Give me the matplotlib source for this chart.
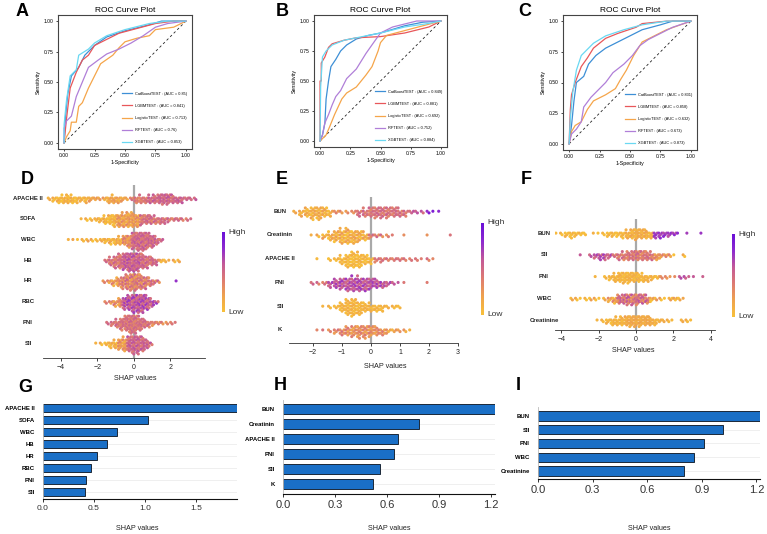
import numpy as np
import matplotlib
matplotlib.use("Agg")
import matplotlib.pyplot as plt
from matplotlib.colors import LinearSegmentedColormap

plt.rcParams['font.family'] = ['Liberation Sans', 'DejaVu Sans']

W, H = 767, 534

# ---------------- ROC data (FPR, TPR) ----------------
models = ['CatBoostTEST', 'LGBMTEST', 'LogisticTEST', 'RFTEST', 'XGBTEST']
model_colors = ['#3d8fd6', '#e8575a', '#f5a54a', '#b07fd8', '#6ad8f2']

aucA = ['0.85', '0.841', '0.713', '0.76', '0.853']
rocA = {
    'CatBoostTEST': ([0, 0.01, 0.03, 0.06, 0.12, 0.17, 0.25, 0.35, 0.5, 0.7, 0.8, 1],
                     [0, 0.2, 0.4, 0.55, 0.62, 0.72, 0.8, 0.87, 0.92, 0.97, 1, 1]),
    'LGBMTEST': ([0, 0.02, 0.05, 0.1, 0.15, 0.2, 0.25, 0.35, 0.45, 0.6, 0.75, 0.9, 1],
                 [0, 0.2, 0.45, 0.58, 0.68, 0.72, 0.8, 0.85, 0.9, 0.94, 0.98, 1, 1]),
    'LogisticTEST': ([0, 0.02, 0.05, 0.06, 0.1, 0.12, 0.15, 0.2, 0.25, 0.3, 0.4, 0.45, 0.5, 0.6, 0.7, 0.75, 0.9, 1],
                     [0, 0.05, 0.1, 0.17, 0.17, 0.3, 0.33, 0.45, 0.55, 0.65, 0.72, 0.78, 0.83, 0.86, 0.88, 0.93, 0.95, 1]),
    'RFTEST': ([0, 0, 0.02, 0.06, 0.1, 0.15, 0.2, 0.28, 0.35, 0.45, 0.55, 0.65, 0.75, 0.85, 1],
               [0, 0.12, 0.18, 0.22, 0.38, 0.5, 0.62, 0.68, 0.73, 0.77, 0.82, 0.88, 0.95, 0.98, 1]),
    'XGBTEST': ([0, 0, 0.02, 0.05, 0.1, 0.12, 0.2, 0.25, 0.35, 0.5, 0.7, 0.85, 1],
                [0, 0.15, 0.35, 0.55, 0.6, 0.72, 0.77, 0.82, 0.88, 0.93, 0.98, 1, 1]),
}

aucB = ['0.849', '0.881', '0.692', '0.752', '0.884']
rocB = {
    'CatBoostTEST': ([0, 0.02, 0.04, 0.05, 0.07, 0.09, 0.13, 0.17, 0.22, 0.3, 0.4, 0.5, 0.7, 0.85, 1],
                     [0, 0.05, 0.15, 0.35, 0.5, 0.62, 0.68, 0.75, 0.8, 0.85, 0.88, 0.9, 0.96, 0.99, 1]),
    'LGBMTEST': ([0, 0, 0.01, 0.01, 0.04, 0.07, 0.1, 0.2, 0.3, 0.5, 0.7, 0.9, 1],
                 [0, 0.5, 0.5, 0.65, 0.7, 0.78, 0.81, 0.84, 0.86, 0.87, 0.9, 0.95, 1]),
    'LogisticTEST': ([0, 0.05, 0.08, 0.12, 0.18, 0.22, 0.3, 0.38, 0.43, 0.48, 0.5, 0.55, 0.7, 0.85, 1],
                     [0, 0.05, 0.12, 0.22, 0.35, 0.4, 0.45, 0.55, 0.62, 0.75, 0.82, 0.88, 0.92, 0.96, 1]),
    'RFTEST': ([0, 0.02, 0.04, 0.07, 0.1, 0.13, 0.17, 0.22, 0.3, 0.38, 0.45, 0.5, 0.6, 0.8, 1],
               [0, 0.05, 0.15, 0.22, 0.3, 0.37, 0.42, 0.52, 0.6, 0.73, 0.83, 0.9, 0.95, 1, 1]),
    'XGBTEST': ([0, 0.005, 0.02, 0.05, 0.1, 0.2, 0.35, 0.5, 0.7, 0.9, 1],
                [0, 0.45, 0.7, 0.75, 0.8, 0.84, 0.87, 0.9, 0.95, 0.98, 1]),
}

aucC = ['0.831', '0.858', '0.632', '0.673', '0.873']
rocC = {
    'CatBoostTEST': ([0, 0.02, 0.04, 0.06, 0.12, 0.16, 0.22, 0.3, 0.4, 0.5, 0.6, 0.75, 0.85, 1],
                     [0, 0.15, 0.35, 0.5, 0.55, 0.65, 0.72, 0.78, 0.83, 0.88, 0.93, 0.97, 1, 1]),
    'LGBMTEST': ([0, 0.01, 0.02, 0.05, 0.1, 0.15, 0.2, 0.3, 0.4, 0.55, 0.6, 0.8, 1],
                 [0, 0.28, 0.4, 0.5, 0.63, 0.7, 0.78, 0.86, 0.9, 0.95, 0.98, 1, 1]),
    'LogisticTEST': ([0, 0.02, 0.05, 0.1, 0.15, 0.2, 0.3, 0.38, 0.42, 0.47, 0.53, 0.6, 0.7, 0.8, 1],
                     [0, 0.1, 0.15, 0.18, 0.28, 0.35, 0.4, 0.45, 0.52, 0.6, 0.72, 0.83, 0.88, 0.93, 1]),
    'RFTEST': ([0, 0.02, 0.06, 0.1, 0.12, 0.18, 0.25, 0.3, 0.36, 0.45, 0.52, 0.58, 0.65, 0.75, 0.85, 1],
               [0, 0.08, 0.12, 0.18, 0.3, 0.38, 0.45, 0.5, 0.58, 0.65, 0.72, 0.8, 0.85, 0.9, 0.95, 1]),
    'XGBTEST': ([0, 0.01, 0.03, 0.06, 0.1, 0.15, 0.2, 0.3, 0.45, 0.6, 0.8, 1],
                [0, 0.2, 0.42, 0.6, 0.72, 0.77, 0.82, 0.88, 0.93, 0.97, 1, 1]),
}

# ---------------- SHAP swarm data ----------------
# each feature: (first bin centre, bin counts, colour segments [(upper bin centre, feature level 0..1)], colour spread)
featD = ['APACHE II', 'SOFA', 'WBC', 'HB', 'HR', 'RBC', 'PNI', 'SII']
swarmD = [
    (-4.6, [2, 4, 6, 7, 8, 7, 5, 4, 5, 4, 3, 2, 3, 6, 7, 6, 4, 2, 3, 6, 7, 6, 7, 8, 9, 10, 10, 8, 6, 5, 3, 2, 2],
     [(-2.5, 0.08), (-0.3, 0.18), (0.7, 0.4), (9, 0.52)], 0.1),
    (-2.8, [1, 2, 2, 3, 4, 7, 9, 11, 12, 13, 14, 14, 12, 10, 9, 8, 7, 6, 5, 4, 3, 3, 2, 2, 1],
     [(-1.0, 0.08), (0.3, 0.22), (9, 0.45)], 0.12),
    (-3.5, [1, 1, 1, 2, 2, 2, 2, 3, 4, 5, 6, 7, 9, 12, 16, 18, 18, 16, 12, 7, 3],
     [(-0.6, 0.1), (-0.2, 0.3), (9, 0.5)], 0.12),
    (-1.5, [3, 7, 11, 14, 16, 18, 18, 17, 14, 11, 8, 5, 3, 2, 1, 2, 2],
     [(-0.6, 0.45), (0.3, 0.55), (1.3, 0.48), (9, 0.15)], 0.12),
    (-1.6, [2, 3, 5, 8, 11, 14, 16, 16, 14, 11, 7, 4, 2, 0, 0, 0, 1],
     [(-0.7, 0.25), (0.5, 0.38), (1.5, 0.42), (9, 0.9)], 0.16),
    (-1.5, [2, 3, 5, 8, 11, 14, 17, 18, 17, 13, 7, 3],
     [(-0.6, 0.3), (9, 0.6)], 0.15),
    (-1.4, [2, 4, 7, 11, 15, 18, 17, 13, 8, 5, 4, 3, 2, 2, 2, 1],
     [(0.9, 0.45), (9, 0.35)], 0.1),
    (-2.0, [1, 2, 3, 5, 7, 10, 13, 15, 17, 17, 14, 8, 2],
     [(-0.9, 0.1), (-0.3, 0.25), (9, 0.52)], 0.12),
]

featE = ['BUN', 'Creatinin', 'APACHE II', 'PNI', 'SII', 'K']
swarmE = [
    (-2.6, [2, 5, 8, 11, 12, 9, 5, 3, 2, 2, 3, 5, 7, 9, 10, 10, 10, 9, 7, 5, 3, 2, 2, 2, 1, 1],
     [(-1.3, 0.12), (-0.5, 0.3), (1.3, 0.45), (1.9, 0.55), (9, 0.85)], 0.1),
    (-2.0, [1, 2, 4, 7, 10, 13, 14, 12, 10, 7, 4, 3, 2, 2, 1, 0, 1, 0, 0, 0, 1, 0, 0, 0, 1],
     [(-0.1, 0.12), (9, 0.4)], 0.12),
    (-1.8, [1, 0, 2, 3, 7, 12, 14, 13, 9, 5, 4, 4, 3, 3, 3, 2, 2, 2, 1, 2, 1],
     [(0.0, 0.05), (9, 0.42)], 0.08),
    (-2.0, [2, 2, 3, 5, 8, 10, 12, 13, 13, 12, 10, 8, 6, 4, 2, 1, 1, 0, 0, 0, 1],
     [(-1.5, 0.45), (0.7, 0.62), (9, 0.52)], 0.12),
    (-1.6, [1, 2, 3, 8, 14, 16, 12, 8, 7, 6, 5, 2, 3, 2],
     [(9, 0.08)], 0.06),
    (-1.8, [1, 1, 2, 4, 6, 8, 10, 11, 11, 10, 8, 6, 4, 3, 2, 2, 1],
     [(-1.0, 0.35), (0.6, 0.3), (9, 0.2)], 0.12),
]

featF = ['BUN', 'SII', 'PNI', 'WBC', 'Creatinine']
swarmF = [
    (-4.2, [1, 2, 4, 5, 4, 3, 2, 0, 1, 1, 2, 4, 4, 4, 5, 7, 9, 10, 9, 8, 6, 5, 5, 4, 4, 3, 1, 0, 1, 0, 0, 1],
     [(-0.6, 0.05), (0.9, 0.12), (9, 0.72)], 0.08),
    (-2.9, [1, 0, 2, 4, 5, 5, 4, 3, 5, 7, 8, 9, 9, 9, 8, 7, 6, 4, 3, 2, 1, 0, 2],
     [(-1.2, 0.6), (0.9, 0.42), (2.0, 0.28), (9, 0.08)], 0.12),
    (-2.1, [1, 0, 2, 4, 7, 9, 10, 10, 9, 8, 7, 5, 4, 3, 2, 2, 1, 1, 2, 2, 1, 1, 0, 1],
     [(1.2, 0.08), (2.2, 0.3), (9, 0.6)], 0.06),
    (-3.4, [2, 2, 1, 2, 2, 2, 1, 2, 4, 6, 8, 9, 10, 10, 10, 9, 7, 4, 2, 2, 1, 3, 3, 2, 1],
     [(-1.5, 0.05), (-0.9, 0.2), (0.7, 0.45), (9, 0.1)], 0.18),
    (-2.0, [1, 2, 4, 6, 7, 8, 9, 10, 10, 10, 9, 8, 6, 3, 2, 2, 1, 0, 2, 2, 1],
     [(-0.6, 0.08), (0.8, 0.15), (9, 0.1)], 0.06),
]

# ---------------- mean |SHAP| bars ----------------
barG_names = ['APACHE II', 'SOFA', 'WBC', 'HB', 'HR', 'RBC', 'PNI', 'SII']
barG_vals = [1.90, 1.03, 0.72, 0.63, 0.53, 0.47, 0.42, 0.41]
barH_names = ['BUN', 'Creatinin', 'APACHE II', 'PNI', 'SII', 'K']
barH_vals = [1.225, 0.785, 0.665, 0.64, 0.56, 0.52]
barI_names = ['BUN', 'SII', 'PNI', 'WBC', 'Creatinine']
barI_vals = [1.22, 1.015, 0.91, 0.86, 0.80]

shap_cmap = LinearSegmentedColormap.from_list(
    'shap', ['#f8c03a', '#efa24e', '#de7b72', '#c45a98', '#8e2ad0', '#6a0fd8'])

fig = plt.figure(figsize=(W / 100, H / 100), dpi=100)


def px_axes(x0, y0, x1, y1):
    return fig.add_axes([x0 / W, 1 - y1 / H, (x1 - x0) / W, (y1 - y0) / H])


def letter(x, y, s):
    fig.text(x / W, 1 - y / H, s, fontsize=13, fontweight='bold', ha='center', va='center')


def ftext(x, y, s, **kw):
    fig.text(x / W, 1 - y / H, s, ha='center', va='center', **kw)


def roc_panel(box, roc, aucs):
    ax = px_axes(*box)
    ax.plot([0, 1], [0, 1], color='#222222', lw=0.6, ls=(0, (3, 3)))
    for name, col, auc in zip(models, model_colors, aucs):
        fx, ty = roc[name]
        ax.plot(fx, ty, color=col, lw=0.9, label=f'{name} : (AUC = {auc})')
    ax.set_xlim(-0.05, 1.05)
    ax.set_ylim(-0.05, 1.05)
    ticks = [0, 0.25, 0.5, 0.75, 1.0]
    ax.set_xticks(ticks)
    ax.set_yticks(ticks)
    ax.set_xticklabels(['0.00', '0.25', '0.50', '0.75', '1.00'])
    ax.set_yticklabels(['0.00', '0.25', '0.50', '0.75', '1.00'])
    ax.tick_params(labelsize=3.6, length=1.5, width=0.5, pad=1.5)
    for sp in ax.spines.values():
        sp.set_linewidth(0.8)
        sp.set_color('#444444')
    ax.set_xlabel('1-Specificity', fontsize=3.8, labelpad=1)
    ax.set_ylabel('Sensitivity', fontsize=3.8, labelpad=2)
    ax.set_title('ROC Curve Plot', fontsize=6, pad=2)
    ax.legend(loc='lower right', fontsize=2.8, frameon=False, handlelength=2.5,
              labelspacing=2.1, borderaxespad=0.8)
    return ax


def swarm_panel(box, feats, swarm, step, dy, xlim, xticks):
    ax = px_axes(*box)
    ax.axvline(0, color='#a9a9a9', lw=1.6, zorder=1)
    pattern = [0, 0.8, -0.8, 0.4, -0.4, 1, -1]
    ncol = 3
    for row, (start, counts, segs, spread) in enumerate(swarm):
        xs, ys, cs = [], [], []
        for i, n in enumerate(counts):
            centre = start + i * step
            level_c = next(c for up, c in segs if centre <= up)
            for k in range(n):
                col = k % ncol
                idx = k // ncol
                lev = ((idx + 1) // 2) * (1 if idx % 2 else -1)
                xs.append(centre + (col - (ncol - 1) / 2) * step / ncol)
                ys.append(row + lev * dy + (0.5 * dy if col == 1 else 0))
                cs.append(min(1, max(0, level_c + spread * pattern[(k + i) % len(pattern)])))
        ax.scatter(xs, ys, c=cs, cmap=shap_cmap, vmin=0, vmax=1, s=5,
                   linewidths=0, zorder=2)
    n = len(feats)
    ax.set_yticks(range(n))
    ax.set_yticklabels([])
    ax.set_xlim(*xlim)
    ax.set_xticks(xticks)
    ax.tick_params(axis='x', labelsize=5, length=2.5, width=0.6, pad=1.5, colors='#222222')
    ax.tick_params(axis='y', length=0)
    for s in ['top', 'right', 'left']:
        ax.spines[s].set_visible(False)
    ax.spines['bottom'].set_color('#333333')
    ax.spines['bottom'].set_linewidth(0.6)
    return ax


def colorbar(x, y0, y1):
    cax = px_axes(x, y0, x + 2.5, y1)
    grad = np.linspace(0, 1, 100).reshape(-1, 1)
    cax.imshow(grad, aspect='auto', cmap=shap_cmap, origin='lower')
    cax.set_axis_off()
    fig.text((x + 6) / W, 1 - y0 / H, 'High', fontsize=6, ha='left', va='center', color='#333333')
    fig.text((x + 6) / W, 1 - y1 / H, 'Low', fontsize=6, ha='left', va='center', color='#333333')


def bar_panel(box, names, vals, xlim, xticks, xtl, tick_fs, bh):
    ax = px_axes(*box)
    y = np.arange(len(names))
    for yy in y:
        ax.axhline(yy, color='#ececec', lw=0.6, zorder=0)
    ax.barh(y, vals, height=bh, color='#1a6fc6', edgecolor='#1b2838', lw=0.7, zorder=2)
    ax.set_yticks(y)
    ax.set_yticklabels(names, fontsize=4.3, fontweight='bold')
    ax.set_xlim(*xlim)
    ax.set_xticks(xticks)
    ax.set_xticklabels(xtl)
    ax.tick_params(axis='x', labelsize=tick_fs, length=2.5, width=0.7, colors='#333333', pad=2)
    ax.tick_params(axis='y', length=0, pad=6)
    for s in ['top', 'right']:
        ax.spines[s].set_visible(False)
    ax.spines['left'].set_color('#bbbbbb')
    ax.spines['left'].set_linewidth(0.6)
    ax.spines['bottom'].set_color('#111111')
    ax.spines['bottom'].set_linewidth(0.8)
    return ax


# ROC row
roc_panel((58, 15, 192, 149), rocA, aucA)
roc_panel((314, 15, 447, 147), rocB, aucB)
roc_panel((563, 15, 697, 150), rocC, aucC)
letter(22, 12, 'A')
letter(282, 12, 'B')
letter(525, 12, 'C')

# SHAP swarm row
axD = swarm_panel((43, 185, 205, 358), featD, swarmD, 0.25, 0.15, (-4.97, 3.9), [-4, -2, 0, 2])
axD.set_ylim(7.72, -0.63)
axE = swarm_panel((289, 197, 458, 343), featE, swarmE, 0.2, 0.14, (-2.83, 3.0), [-2, -1, 0, 1, 2, 3])
axE.set_ylim(5.55, -0.6)
axF = swarm_panel((555, 219, 715, 330), featF, swarmF, 0.25, 0.15, (-4.33, 4.22), [-4, -2, 0, 2, 4])
axF.set_ylim(4.46, -0.65)

for ax, feats, cx in [(axD, featD, 28), (axE, featE, 280), (axF, featF, 544)]:
    for i, f in enumerate(feats):
        disp = ax.transData.transform((0, i))
        ypx = H - disp[1]
        ftext(cx, ypx, f, fontsize=4.3, fontweight='bold', color='#222222')

colorbar(222, 232, 312)
colorbar(481, 223, 315)
colorbar(732, 234, 317)
ftext(135, 378, 'SHAP values', fontsize=5.2, color='#222222')
ftext(385, 366, 'SHAP values', fontsize=5.2, color='#222222')
ftext(633, 350, 'SHAP values', fontsize=5.2, color='#222222')
letter(27, 180, 'D')
letter(282, 180, 'E')
letter(526, 180, 'F')

# bar row
axG = bar_panel((43, 404, 237, 499), barG_names, barG_vals, (0, 1.9), [0, 0.5, 1.0, 1.5],
                ['0.0', '0.5', '1.0', '1.5'], 6, 0.7)
axG.set_ylim(7.58, -0.33)
axH = bar_panel((283, 400, 495, 494), barH_names, barH_vals, (0, 1.225), [0, 0.3, 0.6, 0.9, 1.2],
                ['0.0', '0.3', '0.6', '0.9', '1.2'], 8, 0.67)
axH.set_ylim(5.67, -0.6)
axI = bar_panel((538, 407, 760, 479), barI_names, barI_vals, (0, 1.22), [0, 0.3, 0.6, 0.9, 1.2],
                ['0.0', '0.3', '0.6', '0.9', '1.2'], 8, 0.68)
axI.set_ylim(4.58, -0.65)
ftext(137, 528, 'SHAP values', fontsize=5.2, color='#222222')
ftext(389, 528, 'SHAP values', fontsize=5.2, color='#222222')
ftext(649, 528, 'SHAP values', fontsize=5.2, color='#222222')
letter(25, 387, 'G')
letter(280, 385, 'H')
letter(518, 385, 'I')

fig.savefig('out.png', dpi=100)
